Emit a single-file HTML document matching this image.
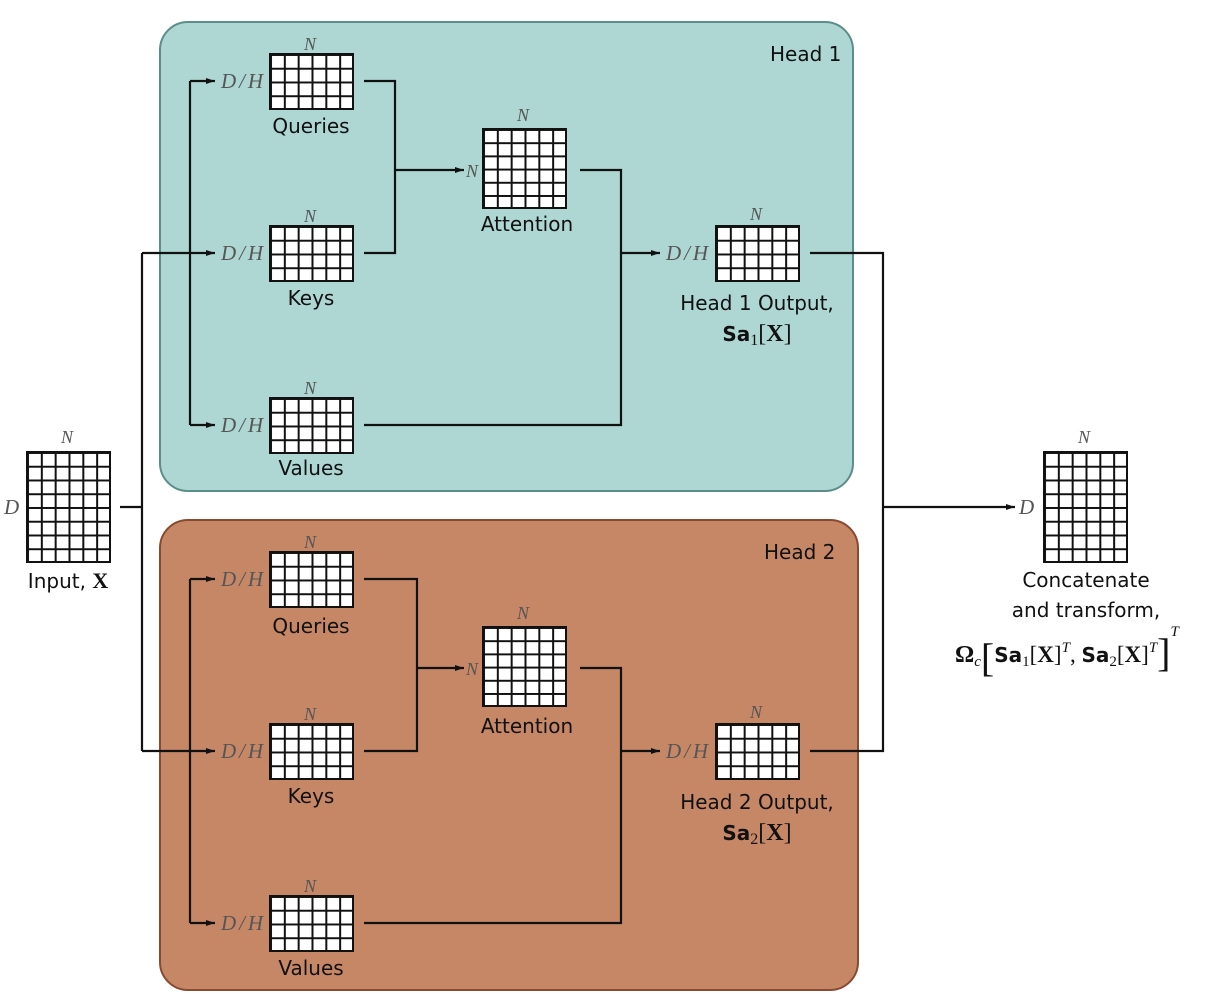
<!DOCTYPE html>
<html><head><style>
html,body{margin:0;padding:0;background:#fff;}
svg{display:block;}
.t{font-family:"DejaVu Sans","Liberation Sans",sans-serif;font-size:20px;fill:#111;}
.m{font-family:"Liberation Serif",serif;font-style:italic;font-size:21px;fill:#555;}
.b{font-family:"Liberation Serif",serif;font-weight:bold;}
</style></head><body>
<svg width="1232" height="1000" viewBox="0 0 1232 1000" xmlns="http://www.w3.org/2000/svg">
<defs>
<pattern id="g" patternUnits="userSpaceOnUse" width="13.83" height="13.75">
<rect width="13.83" height="13.75" fill="#fff"/>
<path d="M0 1H13.83M1 0V13.75" stroke="#111" stroke-width="2" fill="none"/>
</pattern>
<pattern id="ga" patternUnits="userSpaceOnUse" width="13.83" height="13.2">
<rect width="13.83" height="13.2" fill="#fff"/>
<path d="M0 1H13.83M1 0V13.2" stroke="#111" stroke-width="2" fill="none"/>
</pattern>
<marker id="ar" markerWidth="10" markerHeight="8" refX="9" refY="4" orient="auto" markerUnits="userSpaceOnUse">
<path d="M0 1 L9 4 L0 7 Z" fill="#111"/>
</marker>
</defs>

<rect x="160" y="22" width="693" height="469" rx="28" fill="#aed7d3" stroke="#5a8e88" stroke-width="2"/>
<rect x="160" y="520" width="698" height="470" rx="28" fill="#c68767" stroke="#8a4a30" stroke-width="2"/>
<text class="t" x="770" y="61">Head 1</text>
<text class="t" x="764" y="559">Head 2</text>

<g transform="translate(27,452)"><rect width="83" height="110" fill="url(#g)" stroke="#111" stroke-width="2"/></g>
<g transform="translate(1044,452)"><rect width="83" height="110" fill="url(#g)" stroke="#111" stroke-width="2"/></g>
<g transform="translate(270,54)"><rect width="83" height="55" fill="url(#g)" stroke="#111" stroke-width="2"/></g>
<g transform="translate(270,226)"><rect width="83" height="55" fill="url(#g)" stroke="#111" stroke-width="2"/></g>
<g transform="translate(270,398)"><rect width="83" height="55" fill="url(#g)" stroke="#111" stroke-width="2"/></g>
<g transform="translate(483,129)"><rect width="83" height="79" fill="url(#ga)" stroke="#111" stroke-width="2"/></g>
<g transform="translate(716,226)"><rect width="83" height="55" fill="url(#g)" stroke="#111" stroke-width="2"/></g>
<g transform="translate(270,552)"><rect width="83" height="55" fill="url(#g)" stroke="#111" stroke-width="2"/></g>
<g transform="translate(270,724)"><rect width="83" height="55" fill="url(#g)" stroke="#111" stroke-width="2"/></g>
<g transform="translate(270,896)"><rect width="83" height="55" fill="url(#g)" stroke="#111" stroke-width="2"/></g>
<g transform="translate(483,627)"><rect width="83" height="79" fill="url(#ga)" stroke="#111" stroke-width="2"/></g>
<g transform="translate(716,724)"><rect width="83" height="55" fill="url(#g)" stroke="#111" stroke-width="2"/></g>

<g fill="none" stroke="#111" stroke-width="2.2">
<path d="M120 507H142M142 253V751"/>
<path d="M142 253H215" marker-end="url(#ar)"/>
<path d="M142 751H215" marker-end="url(#ar)"/>
<path d="M190 81V425"/>
<path d="M190 81H215" marker-end="url(#ar)"/>
<path d="M190 425H215" marker-end="url(#ar)"/>
<path d="M190 579V923"/>
<path d="M190 579H215" marker-end="url(#ar)"/>
<path d="M190 923H215" marker-end="url(#ar)"/>
<path d="M364 81H395V253H364"/>
<path d="M395 170H464" marker-end="url(#ar)"/>
<path d="M580 170H621V425H364"/>
<path d="M621 253H660" marker-end="url(#ar)"/>
<path d="M364 579H417V751H364"/>
<path d="M417 668H464" marker-end="url(#ar)"/>
<path d="M580 668H621V923H364"/>
<path d="M621 751H660" marker-end="url(#ar)"/>
<path d="M810 253H883V751H810"/>
<path d="M883 507H1015" marker-end="url(#ar)"/>
</g>

<g class="m">
<text x="61" y="443" font-size="18">N</text><text x="4" y="514">D</text>
<text x="1078" y="443" font-size="18">N</text><text x="1019" y="514">D</text>
<text x="304" y="50" font-size="18">N</text><text x="221" y="88" textLength="42">D/H</text>
<text x="304" y="222" font-size="18">N</text><text x="221" y="260" textLength="42">D/H</text>
<text x="304" y="394" font-size="18">N</text><text x="221" y="432" textLength="42">D/H</text>
<text x="517" y="121" font-size="18">N</text><text x="466" y="177" font-size="18">N</text>
<text x="750" y="220" font-size="18">N</text><text x="666" y="260" textLength="42">D/H</text>
<text x="304" y="548" font-size="18">N</text><text x="221" y="586" textLength="42">D/H</text>
<text x="304" y="720" font-size="18">N</text><text x="221" y="758" textLength="42">D/H</text>
<text x="304" y="892" font-size="18">N</text><text x="221" y="930" textLength="42">D/H</text>
<text x="517" y="619" font-size="18">N</text><text x="466" y="675" font-size="18">N</text>
<text x="750" y="718" font-size="18">N</text><text x="666" y="758" textLength="42">D/H</text>
</g>

<g class="t" text-anchor="middle">
<text x="68" y="588">Input, <tspan class="b" font-size="22">X</tspan></text>
<text x="311" y="133">Queries</text>
<text x="311" y="305">Keys</text>
<text x="311" y="475">Values</text>
<text x="527" y="231">Attention</text>
<text x="757" y="310">Head 1 Output,</text>
<text x="757" y="341"><tspan font-weight="bold">Sa</tspan><tspan font-family="Liberation Serif" font-size="16" dy="4">1</tspan><tspan font-family="Liberation Serif" font-size="24" dy="-4">[</tspan><tspan class="b" font-size="24">X</tspan><tspan font-family="Liberation Serif" font-size="24">]</tspan></text>
<text x="311" y="633">Queries</text>
<text x="311" y="803">Keys</text>
<text x="311" y="975">Values</text>
<text x="527" y="733">Attention</text>
<text x="757" y="809">Head 2 Output,</text>
<text x="757" y="840"><tspan font-weight="bold">Sa</tspan><tspan font-family="Liberation Serif" font-size="16" dy="4">2</tspan><tspan font-family="Liberation Serif" font-size="24" dy="-4">[</tspan><tspan class="b" font-size="24">X</tspan><tspan font-family="Liberation Serif" font-size="24">]</tspan></text>
<text x="1086" y="587">Concatenate</text>
<text x="1086" y="617">and transform,</text>
</g>
<text class="t" x="955" y="662"><tspan class="b" font-size="24">Ω</tspan><tspan font-family="Liberation Serif" font-style="italic" font-size="15" dy="4">c</tspan><tspan font-family="Liberation Serif" font-size="40" dy="5">[</tspan><tspan font-weight="bold" dy="-9">Sa</tspan><tspan font-family="Liberation Serif" font-size="15" dy="4">1</tspan><tspan font-family="Liberation Serif" font-size="23" dy="-4">[</tspan><tspan class="b" font-size="23">X</tspan><tspan font-family="Liberation Serif" font-size="23">]</tspan><tspan font-family="Liberation Serif" font-style="italic" font-size="15" dy="-10">T</tspan><tspan font-family="Liberation Serif" font-size="23" dy="10">, </tspan><tspan font-weight="bold">Sa</tspan><tspan font-family="Liberation Serif" font-size="15" dy="4">2</tspan><tspan font-family="Liberation Serif" font-size="23" dy="-4">[</tspan><tspan class="b" font-size="23">X</tspan><tspan font-family="Liberation Serif" font-size="23">]</tspan><tspan font-family="Liberation Serif" font-style="italic" font-size="15" dy="-10">T</tspan><tspan font-family="Liberation Serif" font-size="40" dy="14">]</tspan><tspan font-family="Liberation Serif" font-style="italic" font-size="15" dy="-30">T</tspan></text>
</svg>
</body></html>
